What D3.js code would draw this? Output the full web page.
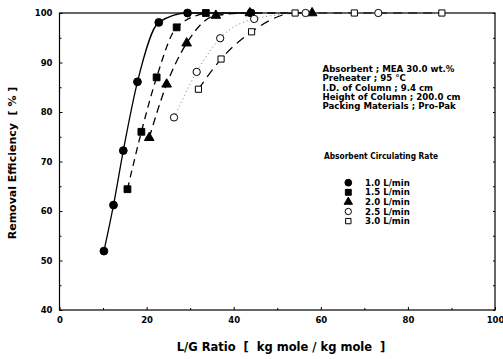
<!DOCTYPE html>
<html><head><meta charset="utf-8">
<script src="https://cdn.jsdelivr.net/npm/d3@7"></script>
<style>body{margin:0;background:#fff}svg{display:block}</style>
</head><body>
<script>
const seriesNames = ["1.0 L/min","1.5 L/min","2.0 L/min","2.5 L/min","3.0 L/min"];
const s10 = [[10.2,51.9],[12.4,61.2],[14.65,72.2],[17.9,86.1],[22.8,98.1],[29.4,100],[44.0,100]];
const s15 = [[15.6,64.4],[18.8,76.0],[22.3,87.0],[26.9,97.1],[33.6,100]];
const s20 = [[20.6,74.8],[24.6,85.6],[29.2,93.9],[35.9,99.5],[43.7,100],[58.0,100]];
const s25 = [[26.3,78.9],[31.5,88.1],[36.9,94.9],[44.7,98.8],[56.5,100],[73.2,100]];
const s30 = [[31.9,84.6],[37.1,90.7],[44.1,96.2],[54.1,100],[67.7,100],[87.8,100]];
const xTicks = [0,20,40,60,80,100];
const yTicks = [40,50,60,70,80,90,100];
const infoLines = ["Absorbent ; MEA 30.0 wt.%","Preheater ; 95 \u00B0C","I.D. of Column ; 9.4 cm","Height of Column ; 200.0 cm","Packing Materials ; Pro-Pak"];
const legendTitle = "Absorbent Circulating Rate";

const W=503,H=359;
const m={l:59.5,r:8,t:13,b:49};
const svg=d3.select("body").append("svg").attr("width",W).attr("height",H);
const x=d3.scaleLinear().domain([0,100]).range([m.l,W-m.r]);
const y=d3.scaleLinear().domain([40,100]).range([H-m.b,m.t]);
const font="'DejaVu Sans', sans-serif";

// frame
svg.append("rect").attr("x",x(0)).attr("y",y(100)).attr("width",x(100)-x(0)).attr("height",y(40)-y(100))
  .attr("fill","none").attr("stroke","#000").attr("stroke-width",1.2);

// axes with inward ticks
const gx=svg.append("g").attr("transform",`translate(0,${y(40)})`)
  .call(d3.axisBottom(x).tickValues(xTicks).tickSize(-3).tickPadding(7).tickFormat(d3.format("d")));
const gxm=svg.append("g").attr("transform",`translate(0,${y(40)})`)
  .call(d3.axisBottom(x).tickValues([10,30,50,70,90]).tickSize(-2).tickFormat(""));
const gy=svg.append("g").attr("transform",`translate(${x(0)},0)`)
  .call(d3.axisLeft(y).tickValues(yTicks).tickSize(-3).tickPadding(7).tickFormat(d3.format("d")));
const gym=svg.append("g").attr("transform",`translate(${x(0)},0)`)
  .call(d3.axisLeft(y).tickValues([45,55,65,75,85,95]).tickSize(-2).tickFormat(""));
const gyr=svg.append("g").attr("transform",`translate(${x(100)},0)`)
  .call(d3.axisRight(y).tickValues(yTicks.concat([45,55,65,75,85,95])).tickSize(-2).tickFormat(""));
[gx,gxm,gy,gym,gyr].forEach(g=>{g.select(".domain").remove();g.selectAll("line").attr("stroke","#000");
  g.selectAll("text").attr("font-family",font).attr("font-weight","bold").attr("font-size","8.5px").attr("fill","#000");});

// lines
const line=d3.line().x(d=>x(d[0])).y(d=>y(d[1])).curve(d3.curveMonotoneX);
const series=[
 {d:s10,dash:null,col:"#000",w:1.3,sym:d3.symbolCircle,fill:"#000",size:48},
 {d:s15,dash:"7,5",col:"#000",w:1.3,sym:d3.symbolSquare,fill:"#000",size:46},
 {d:s20,dash:"8,5",col:"#000",w:1.3,sym:d3.symbolTriangle,fill:"#000",size:40},
 {d:s25,dash:"1,3",col:"#777",w:1,sym:d3.symbolCircle,fill:"#fff",size:42},
 {d:s30,dash:"9,6",col:"#000",w:1.2,sym:d3.symbolSquare,fill:"#fff",size:38}
];
series.forEach(s=>{
  svg.append("path").datum(s.d).attr("d",line).attr("fill","none").attr("stroke",s.col)
    .attr("stroke-width",s.w).attr("stroke-dasharray",s.dash);
});
series.forEach(s=>{
  svg.append("g").selectAll("path").data(s.d).join("path")
    .attr("transform",d=>`translate(${x(d[0])},${y(d[1])})`)
    .attr("d",d3.symbol().type(s.sym).size(s.size))
    .attr("fill",s.fill).attr("stroke","#000").attr("stroke-width",1);
});

// info text
const info=svg.append("g").attr("font-family",font).attr("font-weight","bold").attr("font-size","8.6px");
info.selectAll("text").data(infoLines).join("text").attr("x",322.5).attr("y",(d,i)=>72+i*9.3).text(d=>d);
info.append("text").attr("x",324).attr("y",159).attr("textLength",114)
  .attr("lengthAdjust","spacingAndGlyphs").text(legendTitle);
const lg=svg.append("g");
seriesNames.forEach((n,i)=>{
  const yy=182.7+i*9.6;
  lg.append("path").attr("transform",`translate(348.3,${yy})`)
    .attr("d",d3.symbol().type(series[i].sym).size(series[i].size*0.75))
    .attr("fill",series[i].fill).attr("stroke","#000").attr("stroke-width",1);
  lg.append("text").attr("x",365).attr("y",yy+3).attr("font-family",font).attr("font-weight","bold")
    .attr("font-size","8.6px").text(n);
});

// axis titles
svg.append("text").attr("x",281).attr("y",351).attr("text-anchor","middle").attr("font-family",font)
  .attr("font-weight","bold").attr("font-size","11.5px").attr("xml:space","preserve")
  .text("L/G Ratio  [  kg mole / kg mole  ]");
svg.append("text").attr("transform","translate(16,163) rotate(-90)").attr("text-anchor","middle")
  .attr("font-family",font).attr("font-weight","bold").attr("font-size","11px").attr("xml:space","preserve")
  .text("Removal Efficiency  [ % ]");
</script>
</body></html>
